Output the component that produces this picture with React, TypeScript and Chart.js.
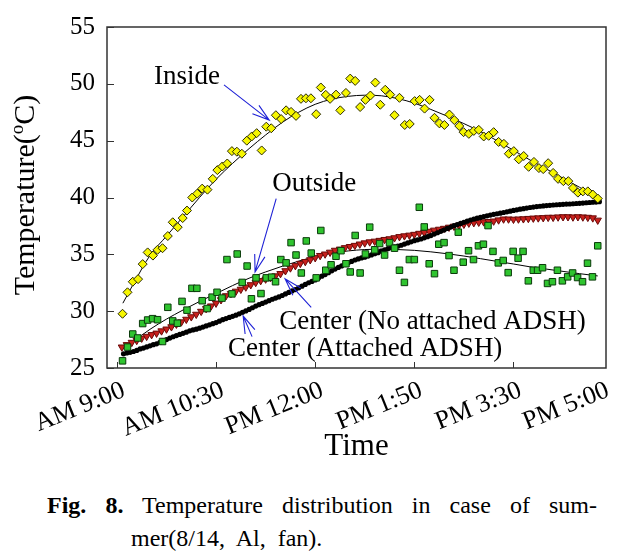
import React, { useEffect, useRef } from "react";
import { Chart, registerables } from "chart.js";
Chart.register(...registerables);

const FONT = '"Liberation Serif", "Times New Roman", serif';

// ---- axis ----
const xTickValues = [0, 30, 60, 90, 120, 146.5];
const xTickLabels = ["AM 9:00", "AM 10:30", "PM 12:00", "PM 1:50", "PM 3:30", "PM 5:00"];
const yTickValues = [25, 30, 35, 40, 45, 50, 55];

// ---- Inside (yellow diamonds) ----
const insideX = [1.7, 3.2, 4.8, 6.4, 7.8, 9.3, 10.9, 12.3, 13.8, 15.4, 16.9, 18.4, 19.9, 21.2, 22.8, 24.3, 25.8, 27.4, 29.0, 30.4, 31.9, 33.4, 34.8, 36.3, 37.8, 39.3, 40.8, 42.3, 43.8, 45.2, 46.7, 48.1, 49.7, 51.2, 52.7, 54.2, 55.7, 57.2, 58.7, 60.3, 61.7, 63.2, 64.5, 66.3, 67.6, 69.3, 70.6, 72.1, 73.6, 75.2, 76.7, 78.2, 79.7, 81.2, 82.7, 84.0, 85.5, 87.1, 88.6, 90.1, 91.6, 93.1, 94.6, 96.1, 97.6, 99.1, 100.6, 102.1, 103.6, 104.9, 106.5, 108.0, 109.5, 111.0, 112.5, 114.0, 115.5, 117.1, 118.6, 120.1, 121.6, 123.1, 124.6, 126.2, 127.7, 129.0, 130.5, 132.0, 133.5, 135.1, 136.6, 138.0, 139.5, 141.0, 142.5, 144.0, 145.5];
const insideY = [29.77, 31.66, 32.59, 32.82, 34.14, 35.17, 34.89, 35.40, 35.54, 36.61, 37.82, 37.39, 38.19, 38.85, 40.00, 40.34, 40.78, 40.69, 41.64, 42.41, 42.73, 42.99, 44.08, 44.03, 43.85, 45.00, 45.37, 45.66, 44.14, 46.23, 46.09, 47.24, 46.90, 47.67, 47.53, 47.18, 48.68, 48.73, 48.73, 47.33, 49.68, 49.03, 48.68, 49.05, 47.67, 49.20, 50.46, 50.26, 47.96, 48.59, 48.97, 50.11, 48.16, 49.48, 49.05, 47.24, 48.77, 46.38, 46.47, 48.48, 48.59, 47.82, 48.59, 47.01, 46.52, 46.38, 47.30, 46.81, 46.29, 45.75, 45.60, 45.86, 45.95, 45.37, 45.43, 45.75, 44.89, 44.72, 43.85, 44.08, 43.36, 43.65, 42.70, 43.13, 42.59, 42.50, 43.02, 42.16, 41.64, 41.44, 41.44, 40.84, 40.43, 40.54, 40.54, 40.26, 39.91];

// ---- Outside (green squares) ----
const outsideX = [1.7, 3.2, 4.8, 6.3, 7.8, 9.3, 10.8, 12.3, 13.8, 15.4, 16.9, 18.3, 19.7, 21.2, 22.7, 24.2, 25.8, 27.3, 28.8, 30.3, 31.8, 33.3, 34.8, 36.4, 37.9, 39.4, 40.7, 42.1, 43.6, 45.2, 46.8, 48.0, 49.6, 51.2, 52.7, 54.2, 55.8, 57.3, 58.8, 60.3, 61.7, 63.2, 64.8, 66.3, 67.8, 69.3, 70.6, 72.1, 73.6, 75.2, 76.5, 78.0, 79.5, 81.0, 82.5, 84.0, 85.5, 87.0, 88.5, 90.0, 91.5, 93.0, 94.5, 96.1, 97.4, 99.0, 100.5, 102.0, 103.3, 104.8, 106.4, 107.9, 109.4, 110.9, 112.3, 113.8, 115.4, 116.9, 118.4, 119.9, 121.4, 122.9, 124.5, 126.0, 127.3, 128.8, 130.3, 131.8, 133.3, 134.8, 136.4, 137.9, 139.4, 140.9, 142.4, 143.9, 145.5];
const outsideY = [25.63, 26.84, 27.99, 27.64, 28.91, 29.22, 29.34, 29.25, 27.33, 30.34, 29.14, 28.94, 30.86, 30.09, 32.01, 32.01, 30.92, 30.23, 31.23, 31.66, 31.15, 34.54, 31.52, 35.03, 32.53, 33.97, 31.09, 32.93, 31.55, 32.93, 32.99, 32.59, 34.54, 34.25, 36.03, 34.94, 33.36, 36.18, 35.11, 32.93, 37.10, 33.60, 34.08, 34.83, 35.32, 34.17, 33.45, 36.66, 33.36, 35.03, 37.39, 35.40, 35.95, 34.94, 36.03, 35.54, 33.60, 32.53, 34.54, 34.54, 39.14, 37.41, 34.17, 33.30, 35.89, 36.03, 34.89, 33.60, 36.95, 34.31, 35.32, 34.54, 35.75, 35.89, 37.53, 35.26, 34.25, 34.46, 33.39, 35.26, 34.66, 35.26, 32.67, 33.60, 33.60, 33.82, 32.44, 32.59, 33.60, 32.67, 33.02, 33.36, 32.96, 32.59, 34.22, 33.02, 35.75];

// ---- Center (No attached ADSH) (red triangles) ----
const centerNoX = [1.5, 3, 4.5, 6, 7.5, 9, 10.5, 12, 13.5, 15, 16.5, 18, 19.5, 21, 22.5, 24, 25.5, 27, 28.5, 30, 31.5, 33, 34.5, 36, 37.5, 39, 40.5, 42, 43.5, 45, 46.5, 48, 49.5, 51, 52.5, 54, 55.5, 57, 58.5, 60, 61.5, 63, 64.5, 66, 67.5, 69, 70.5, 72, 73.5, 75, 76.5, 78, 79.5, 81, 82.5, 84, 85.5, 87, 88.5, 90, 91.5, 93, 94.5, 96, 97.5, 99, 100.5, 102, 103.5, 105, 106.5, 108, 109.5, 111, 112.5, 114, 115.5, 117, 118.5, 120, 121.5, 123, 124.5, 126, 127.5, 129, 130.5, 132, 133.5, 135, 136.5, 138, 139.5, 141, 142.5, 144, 145.5];
const centerNoY = [26.84, 27.05, 27.25, 27.42, 27.62, 27.78, 27.93, 28.06, 28.26, 28.42, 28.62, 28.85, 29.05, 29.28, 29.5, 29.72, 29.98, 30.22, 30.45, 30.7, 31.0, 31.35, 31.55, 31.75, 31.92, 32.12, 32.32, 32.52, 32.68, 32.82, 32.96, 33.1, 33.3, 33.55, 33.8, 34.0, 34.2, 34.36, 34.52, 34.7, 34.89, 35.02, 35.18, 35.35, 35.45, 35.58, 35.68, 35.78, 35.9, 36.0, 36.09, 36.15, 36.22, 36.3, 36.36, 36.45, 36.55, 36.62, 36.68, 36.75, 36.84, 36.92, 37.02, 37.12, 37.2, 37.28, 37.38, 37.47, 37.55, 37.64, 37.74, 37.78, 37.82, 37.85, 37.88, 37.92, 38.02, 38.1, 38.1, 38.08, 38.1, 38.12, 38.15, 38.18, 38.2, 38.22, 38.25, 38.25, 38.28, 38.3, 38.3, 38.28, 38.3, 38.28, 38.25, 38.2, 38.0];

// ---- Center (Attached ADSH) (black circles) ----
const centerAttX = [2, 3, 4, 5, 6, 7, 8, 9, 10, 11, 12, 13, 14, 15, 16, 17, 18, 19, 20, 21, 22, 23, 24, 25, 26, 27, 28, 29, 30, 31, 32, 33, 34, 35, 36, 37, 38, 39, 40, 41, 42, 43, 44, 45, 46, 47, 48, 49, 50, 51, 52, 53, 54, 55, 56, 57, 58, 59, 60, 61, 62, 63, 64, 65, 66, 67, 68, 69, 70, 71, 72, 73, 74, 75, 76, 77, 78, 79, 80, 81, 82, 83, 84, 85, 86, 87, 88, 89, 90, 91, 92, 93, 94, 95, 96, 97, 98, 99, 100, 101, 102, 103, 104, 105, 106, 107, 108, 109, 110, 111, 112, 113, 114, 115, 116, 117, 118, 119, 120, 121, 122, 123, 124, 125, 126, 127, 128, 129, 130, 131, 132, 133, 134, 135, 136, 137, 138, 139, 140, 141, 142, 143, 144, 145, 146];
const centerAttY = [26.25, 26.32, 26.38, 26.45, 26.55, 26.68, 26.75, 26.85, 26.95, 27.05, 27.13, 27.25, 27.38, 27.5, 27.63, 27.75, 27.85, 27.95, 28.05, 28.15, 28.27, 28.35, 28.42, 28.5, 28.6, 28.7, 28.8, 28.9, 29.0, 29.12, 29.25, 29.35, 29.45, 29.55, 29.65, 29.77, 29.9, 30.02, 30.15, 30.3, 30.45, 30.57, 30.68, 30.8, 30.92, 31.05, 31.15, 31.25, 31.38, 31.52, 31.65, 31.78, 31.9, 32.05, 32.2, 32.35, 32.5, 32.62, 32.75, 32.92, 33.08, 33.22, 33.38, 33.55, 33.7, 33.85, 33.98, 34.12, 34.25, 34.38, 34.5, 34.6, 34.68, 34.75, 34.85, 34.95, 35.05, 35.15, 35.28, 35.4, 35.5, 35.58, 35.65, 35.72, 35.8, 35.9, 36.0, 36.1, 36.2, 36.28, 36.35, 36.45, 36.55, 36.65, 36.78, 36.9, 37.02, 37.15, 37.28, 37.4, 37.52, 37.62, 37.72, 37.82, 37.92, 38.02, 38.1, 38.18, 38.25, 38.32, 38.39, 38.45, 38.52, 38.57, 38.62, 38.68, 38.74, 38.8, 38.86, 38.92, 38.97, 39.02, 39.07, 39.12, 39.16, 39.2, 39.23, 39.26, 39.29, 39.31, 39.34, 39.36, 39.38, 39.4, 39.42, 39.43, 39.45, 39.47, 39.49, 39.51, 39.54, 39.56, 39.58, 39.6, 39.63];

// ---- regression curves ----
const insideFitX = [1.8, 5, 10, 15, 20, 25, 30, 35, 40, 45, 50, 55, 60, 65, 70, 75, 80, 85, 90, 95, 100, 105, 110, 115, 120, 125, 130, 135, 140, 145.5];
const insideFitY = [30.7, 32.4, 34.9, 36.6, 38.3, 40.0, 41.6, 43.0, 44.3, 45.5, 46.6, 47.5, 48.2, 48.65, 48.9, 49.0, 48.95, 48.7, 48.3, 47.75, 47.15, 46.5, 45.8, 45.0, 44.15, 43.3, 42.5, 41.7, 40.9, 39.95];
const outsideFitX = [3.4, 5, 10, 15, 20, 25, 30, 35, 40, 45, 50, 55, 60, 65, 70, 75, 80, 85, 90, 95, 100, 105, 110, 115, 120, 125, 130, 135, 140, 145.5];
const outsideFitY = [27.0, 27.35, 28.4, 29.3, 30.1, 30.85, 31.55, 32.25, 32.9, 33.45, 33.95, 34.4, 34.8, 35.1, 35.3, 35.42, 35.45, 35.42, 35.35, 35.22, 35.05, 34.85, 34.62, 34.38, 34.15, 33.9, 33.7, 33.5, 33.3, 33.1];

// ---- annotations (data coordinates) ----
const labelTexts = ["Inside", "Outside", "Center (No attached ADSH)", "Center (Attached ADSH)"];
const labelAt = [[11.2, 50.0], [47.0, 40.6], [49.1, 28.45], [33.6, 26.03]];
const arrowFrom = [[32.4, 49.91], [48.2, 39.9], [58.8, 30.34], [40.9, 27.76]];
const arrowTo = [[46.1, 46.81], [41.8, 33.45], [50.9, 32.84], [38.2, 29.57]];

const pts = (xs: number[], ys: number[]) => xs.map((x, i) => ({ x, y: ys[i] }));

const decorPlugin = {
  id: "decor",
  beforeDatasetsDraw(chart: any) {
    const { ctx, chartArea: a, scales } = chart;
    ctx.save();
    ctx.strokeStyle = "#333";
    ctx.lineWidth = 1.5;
    ctx.strokeRect(a.left, a.top, a.right - a.left, a.bottom - a.top);
    ctx.lineWidth = 1;
    ctx.beginPath();
    for (const v of xTickValues.slice(0, 5)) {
      const px = Math.round(scales.x.getPixelForValue(v)) + 0.5;
      ctx.moveTo(px, a.bottom);
      ctx.lineTo(px, a.bottom - 6);
    }
    for (const v of yTickValues) {
      const py = Math.round(scales.y.getPixelForValue(v)) + 0.5;
      ctx.moveTo(a.left, py);
      ctx.lineTo(a.left + 7, py);
    }
    ctx.stroke();
    ctx.restore();
  },
  afterDraw(chart: any) {
    const { ctx, scales } = chart;
    const sx = (v: number) => scales.x.getPixelForValue(v);
    const sy = (v: number) => scales.y.getPixelForValue(v);
    ctx.save();
    // y title with superscript
    ctx.translate(34, 195);
    ctx.rotate(-Math.PI / 2);
    ctx.fillStyle = "#000";
    ctx.textBaseline = "alphabetic";
    const big = `30px ${FONT}`;
    const small = `19px ${FONT}`;
    ctx.font = big;
    const w1 = ctx.measureText("Temperature(").width;
    const w3 = ctx.measureText("C)").width;
    ctx.font = small;
    const w2 = ctx.measureText("o").width;
    const x0 = -(w1 + w2 + w3) / 2;
    ctx.font = big;
    ctx.fillText("Temperature(", x0, 0);
    ctx.font = small;
    ctx.fillText("o", x0 + w1, -11);
    ctx.font = big;
    ctx.fillText("C)", x0 + w1 + w2, 0);
    ctx.restore();

    // annotations
    ctx.save();
    ctx.fillStyle = "#000";
    ctx.font = `27px ${FONT}`;
    ctx.textBaseline = "alphabetic";
    labelTexts.forEach((t, i) => ctx.fillText(t, sx(labelAt[i][0]), sy(labelAt[i][1])));
    ctx.strokeStyle = "#1f22d6";
    ctx.lineWidth = 1.1;
    arrowFrom.forEach((f, i) => {
      const x1 = sx(f[0]), y1 = sy(f[1]);
      const x2 = sx(arrowTo[i][0]), y2 = sy(arrowTo[i][1]);
      const ang = Math.atan2(y1 - y2, x1 - x2);
      const L = 18, spread = 0.3;
      ctx.beginPath();
      ctx.moveTo(x1, y1);
      ctx.lineTo(x2, y2);
      ctx.moveTo(x2 + L * Math.cos(ang + spread), y2 + L * Math.sin(ang + spread));
      ctx.lineTo(x2, y2);
      ctx.lineTo(x2 + L * Math.cos(ang - spread), y2 + L * Math.sin(ang - spread));
      ctx.stroke();
    });
    ctx.restore();
  },
};

export default function App() {
  const ref = useRef<HTMLCanvasElement | null>(null);
  useEffect(() => {
    if (!ref.current) return;
    const chart = new Chart(ref.current, {
      type: "scatter",
      data: {
        datasets: [
          {
            label: "Inside",
            data: pts(insideX, insideY),
            pointStyle: "rectRot",
            pointRadius: 4.5,
            backgroundColor: "#f6f600",
            borderColor: "#2a2a00",
            borderWidth: 1,
          },
          {
            label: "Outside",
            data: pts(outsideX, outsideY),
            pointStyle: "rect",
            pointRadius: 4.6,
            backgroundColor: "#2fc42f",
            borderColor: "#0b3a0b",
            borderWidth: 1,
          },
          {
            label: "Center (Attached ADSH)",
            data: pts(centerAttX, centerAttY),
            pointStyle: "circle",
            pointRadius: 2.6,
            backgroundColor: "#000",
            borderColor: "#000",
            borderWidth: 0,
          },
          {
            label: "Center (No attached ADSH)",
            data: pts(centerNoX, centerNoY),
            pointStyle: "triangle",
            rotation: 180,
            pointRadius: 4.2,
            backgroundColor: "#c8201c",
            borderColor: "#6a0a08",
            borderWidth: 1,
          },
          {
            type: "line",
            label: "Inside fit",
            data: pts(insideFitX, insideFitY),
            borderColor: "#000",
            borderWidth: 1,
            pointRadius: 0,
            cubicInterpolationMode: "monotone",
            fill: false,
          } as any,
          {
            type: "line",
            label: "Outside fit",
            data: pts(outsideFitX, outsideFitY),
            borderColor: "#000",
            borderWidth: 1,
            pointRadius: 0,
            cubicInterpolationMode: "monotone",
            fill: false,
          } as any,
        ],
      },
      options: {
        animation: false,
        responsive: false,
        maintainAspectRatio: false,
        layout: { padding: { left: 0, top: 20, right: 21, bottom: 0 } },
        plugins: { legend: { display: false }, tooltip: { enabled: false } },
        scales: {
          x: {
            type: "linear",
            min: -3,
            max: 148,
            grid: { display: false, drawTicks: false },
            border: { display: false },
            afterBuildTicks: (s: any) => {
              s.ticks = xTickValues.map((v) => ({ value: v }));
            },
            afterFit: (s: any) => {
              s.height = 102;
            },
            ticks: {
              autoSkip: false,
              minRotation: 22,
              maxRotation: 22,
              padding: 7,
              labelOffset: 7,
              color: "#000",
              font: { family: FONT, size: 26 },
              callback: (v: any) => xTickLabels[xTickValues.indexOf(Number(v))] ?? "",
            },
            title: {
              display: true,
              text: "Time",
              color: "#000",
              font: { family: FONT, size: 31 },
              padding: { top: 0, bottom: 5 },
            },
          },
          y: {
            min: 25,
            max: 55,
            grid: { display: false, drawTicks: false },
            border: { display: false },
            afterBuildTicks: (s: any) => {
              s.ticks = yTickValues.map((v) => ({ value: v }));
            },
            afterFit: (s: any) => {
              s.width = 107;
            },
            ticks: {
              padding: 12,
              color: "#000",
              font: { family: FONT, size: 25 },
            },
          },
        },
      },
      plugins: [decorPlugin],
    });
    return () => chart.destroy();
  }, []);

  const capFont = `24px ${FONT}`;
  return (
    <div style={{ position: "absolute", left: 0, top: 0, width: 627, height: 554, background: "#fff" }}>
      <canvas ref={ref} width={627} height={470} style={{ display: "block", width: 627, height: 470 }} />
      <div
        style={{
          position: "absolute",
          left: 47,
          top: 493,
          width: 550,
          font: capFont,
          lineHeight: "24px",
          color: "#000",
          textAlign: "justify",
          textAlignLast: "justify" as any,
          whiteSpace: "nowrap",
        }}
      >
        <b>Fig.</b> <b>8.</b> Temperature distribution in case of sum-
      </div>
      <div
        style={{
          position: "absolute",
          left: 131,
          top: 526,
          font: capFont,
          lineHeight: "24px",
          color: "#000",
          wordSpacing: 6,
          whiteSpace: "nowrap",
        }}
      >
        mer(8/14, Al, fan).
      </div>
    </div>
  );
}
